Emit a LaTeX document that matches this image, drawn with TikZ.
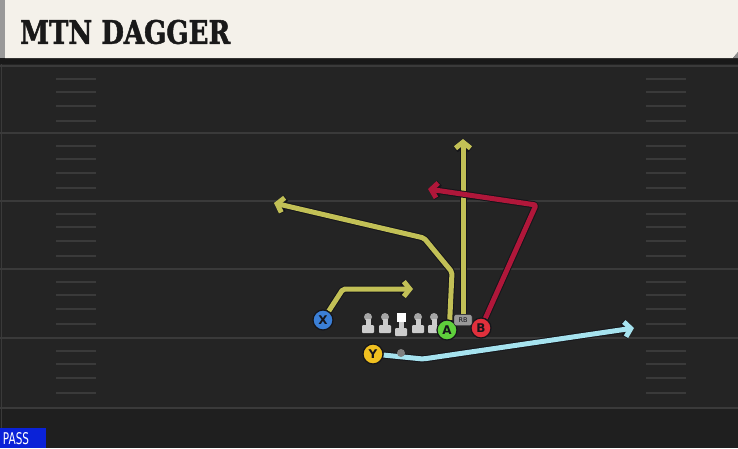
\documentclass[tikz,border=0pt]{standalone}
\usepackage{fontspec}
\setmainfont{DejaVu Sans}
\newfontfamily\titlefont[BoldFeatures={FakeBold=1.6}]{DejaVu Serif Condensed}
\usetikzlibrary{arrows.meta}

\definecolor{turf}{HTML}{242424}
\definecolor{turfdark}{HTML}{1F1F1F}
\definecolor{yardline}{HTML}{3A3A3A}
\definecolor{cream}{HTML}{F4F1EA}
\definecolor{olive}{HTML}{C2C056}
\definecolor{crimson}{HTML}{B0173A}
\definecolor{skyblue}{HTML}{A6E3EF}
\definecolor{outline}{HTML}{15151A}
\definecolor{xblue}{HTML}{3B7FD6}
\definecolor{agreen}{HTML}{5FD03C}
\definecolor{bred}{HTML}{E0303C}
\definecolor{ygold}{HTML}{F0C020}
\definecolor{passblue}{HTML}{0A22D8}

\pgfdeclarelayer{field}
\pgfdeclarelayer{bg}
\pgfsetlayers{field,bg,main}

\tikzset{
  player/.style={circle, draw=outline, line width=1.2pt, minimum size=20pt,
    inner sep=0pt, font=\bfseries\fontsize{12}{12}\selectfont, text=outline},
  routeedge/.style={draw=outline, line width=7pt, line join=round, rounded corners=2pt},
  route/.style={line width=5pt, line join=round, rounded corners=2pt},
  tip/.style={-{Straight Barb[length=6pt,width=15pt]}},
  lineman/.pic={
    \fill[black!35] (0,1) circle (4);
    \fill[black!20] (-2.5,3) rectangle (2.5,9);
    \fill[black!20, rounded corners=1pt] (-6,9) rectangle (6,17);
  },
  snapper/.pic={
    \fill[white] (-4.5,-6) rectangle (4.5,3);
    \fill[black!20] (-2.5,3) rectangle (2.5,9);
    \fill[black!20, rounded corners=1pt] (-6,9) rectangle (6,17);
  }
}

\begin{document}
\begin{tikzpicture}[x=1pt, y=-1pt]
    \useasboundingbox (0,0) rectangle (738,448);

    % Field.
    \begin{pgfonlayer}{field}
    \fill[turf] (0,0) rectangle (738,448);
    \fill[turfdark] (0,408) rectangle (738,448);
    \draw[yardline, line width=1pt] (1,64) -- (1,448);
    \foreach \y in {66,133,201,269,338,408}
        \draw[yardline, line width=2pt] (0,\y) -- (738,\y);
    \foreach \y in {66,133,201,269,338}
        \foreach \d in {13,26,40,55} {
            \draw[yardline, line width=2pt] (56,\y+\d) -- (96,\y+\d);
            \draw[yardline, line width=2pt] (646,\y+\d) -- (686,\y+\d);
        }
    \end{pgfonlayer}

    % Header.
    \fill[black!90] (0,56) rectangle (738,64);
    \fill[black!40] (0,0) rectangle (5,58);
    \fill[cream] (5,0) -- (738,0) -- (738,52) -- (733,58) -- (5,58) -- cycle;
    \fill[black!45] (733,58) -- (738,52) -- (738,58) -- cycle;
    \node[anchor=west, inner sep=0pt, text=black!90] (title) at (20,32)
        {\resizebox{210pt}{24pt}{\titlefont\bfseries MTN DAGGER}};

    % Line.
    \pic at (368,316) {lineman};
    \pic at (385,316) {lineman};
    \pic at (401,319) {snapper};
    \pic at (418,316) {lineman};
    \pic at (434,316) {lineman};

    % Players.
    \node[player, fill=xblue] (X) at (323,320) {X};
    \node[player, fill=agreen] (A) at (447,330) {A};
    \node[player, fill=bred] (B) at (481,328) {B};
    \node[player, fill=ygold] (Y) at (373,354) {Y};
    \node[draw=outline, fill=black!40, rounded corners=2pt, minimum width=18pt,
        minimum height=11pt, inner sep=0pt, text=outline,
        font=\fontsize{6.5}{6.5}\selectfont] (RB) at (463,320) {RB};
    \fill[black!50] (401,353) circle (4) coordinate (motion);

    % Routes.
    \begin{pgfonlayer}{bg}
        \draw[routeedge, tip] (X) -- (343,289) -- (413,289);
        \draw[route, tip, olive] (X) -- (343,289) -- (413,289);
        \draw[routeedge, tip] (A.75) -- (452,272) -- (424,238) -- (274,203);
        \draw[route, tip, olive] (A.75) -- (452,272) -- (424,238) -- (274,203);
        \draw[routeedge, tip] (RB.north) -- (463,139);
        \draw[route, tip, olive] (RB.north) -- (463,139);
        \draw[routeedge, tip] (B) -- (536,205) -- (428,189);
        \draw[route, tip, crimson] (B) -- (536,205) -- (428,189);
        \draw[routeedge, tip] (Y) -- (423,359) -- (634,328);
        \draw[route, tip, skyblue] (Y) -- (423,359) -- (634,328);
    \end{pgfonlayer}

    % Play type.
    \fill[passblue] (0,428) rectangle (46,448);
    \node[text=white, inner sep=0pt] (play) at (16,439)
        {\resizebox{26pt}{12pt}{PASS}};
\end{tikzpicture}
\end{document}
